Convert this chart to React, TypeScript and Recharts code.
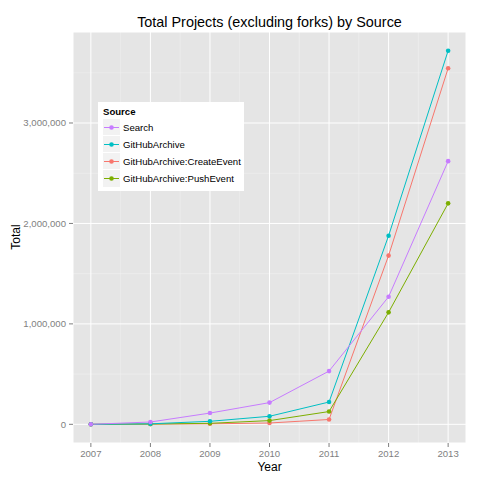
import React from 'react';
import { LineChart, Line, XAxis, YAxis, CartesianGrid, Legend } from 'recharts';

const years = [2007, 2008, 2009, 2010, 2011, 2012, 2013];
const search = [0, 23000, 112000, 216000, 530000, 1270000, 2620000];
const githubArchive = [0, 5000, 30000, 80000, 222000, 1877000, 3720000];
const createEvent = [0, 2000, 5000, 13000, 48000, 1680000, 3545000];
const pushEvent = [0, 3000, 10000, 37000, 127000, 1115000, 2200000];

const yTicks = [0, 1000000, 2000000, 3000000];
const yMinor = [500000, 1500000, 2500000, 3500000];
const xMinor = [2007.5, 2008.5, 2009.5, 2010.5, 2011.5, 2012.5];
const xDomain = [2006.7, 2013.3];
const yDomain = [-186000, 3906000];

// legend order vs drawing order differ, like the ggplot original
const series = [
  { key: 'search', name: 'Search', color: '#C77CFF' },
  { key: 'githubArchive', name: 'GitHubArchive', color: '#00BFC4' },
  { key: 'createEvent', name: 'GitHubArchive:CreateEvent', color: '#F8766D' },
  { key: 'pushEvent', name: 'GitHubArchive:PushEvent', color: '#7CAE00' },
];
const drawOrder = ['createEvent', 'pushEvent', 'githubArchive', 'search'];

const data = years.map((year, i) => ({
  year,
  search: search[i],
  githubArchive: githubArchive[i],
  createEvent: createEvent[i],
  pushEvent: pushEvent[i],
}));

const font = '"Liberation Sans", Arial, sans-serif';
const tickStyle = { fill: '#7F7F7F', fontSize: 9.6, fontFamily: font };

// minor grid positions from the axis domain and the plot offset
const minorY = ({ offset }: any) =>
  yMinor.map((v) => offset.top + (offset.height * (yDomain[1] - v)) / (yDomain[1] - yDomain[0]));
const minorX = ({ offset }: any) =>
  xMinor.map((v) => offset.left + (offset.width * (v - xDomain[0])) / (xDomain[1] - xDomain[0]));

function LegendBox() {
  return (
    <div
      style={{
        background: '#fff',
        width: 146,
        height: 89,
        boxSizing: 'border-box',
        padding: '3px 0 0 5px',
        fontFamily: font,
      }}
    >
      <div style={{ fontSize: 9.6, fontWeight: 'bold', height: 14, lineHeight: '14px' }}>Source</div>
      {series.map((s) => (
        <div key={s.key} style={{ display: 'flex', alignItems: 'center', height: 17 }}>
          <svg width={17} height={17} style={{ background: '#F2F2F2', outline: '1px solid #fff' }}>
            <line x1={1} x2={16} y1={8.5} y2={8.5} stroke={s.color} strokeWidth={1} />
            <circle cx={8.5} cy={8.5} r={2.3} fill={s.color} />
          </svg>
          <span style={{ fontSize: 9.6, marginLeft: 3, color: '#000' }}>{s.name}</span>
        </div>
      ))}
    </div>
  );
}

export default function App() {
  return (
    <div style={{ position: 'absolute', left: 0, top: 0, width: 480, height: 480, background: '#fff' }}>
      <div
        style={{
          position: 'absolute',
          left: 73,
          width: 393,
          top: 14,
          textAlign: 'center',
          fontFamily: font,
          fontSize: 14.4,
          lineHeight: '17px',
        }}
      >
        Total Projects (excluding forks) by Source
      </div>
      <div
        style={{
          position: 'absolute',
          left: 73,
          width: 393,
          top: 462,
          textAlign: 'center',
          fontFamily: font,
          fontSize: 12,
          lineHeight: '11px',
        }}
      >
        Year
      </div>
      <div
        style={{
          position: 'absolute',
          left: 15.5,
          top: 237,
          transform: 'translate(-50%, -50%) rotate(-90deg)',
          fontFamily: font,
          fontSize: 12,
          lineHeight: '14px',
        }}
      >
        Total
      </div>
      <LineChart width={480} height={480} data={data} margin={{ top: 32, right: 14, left: 0, bottom: 0 }}>
        <CartesianGrid
          fill="#E5E5E5"
          stroke="#F2F2F2"
          strokeWidth={0.5}
          horizontalCoordinatesGenerator={minorY}
          verticalCoordinatesGenerator={minorX}
        />
        <CartesianGrid stroke="#FFFFFF" strokeWidth={1} fill="none" />
        <XAxis
          dataKey="year"
          type="number"
          domain={xDomain}
          ticks={years}
          height={37}
          axisLine={false}
          tickLine={{ stroke: '#7F7F7F' }}
          tickSize={4}
          tickMargin={3}
          tick={tickStyle}
          allowDataOverflow
        />
        <YAxis
          type="number"
          domain={yDomain}
          ticks={yTicks}
          width={73}
          axisLine={false}
          tickLine={{ stroke: '#7F7F7F' }}
          tickSize={4}
          tickMargin={3}
          tick={tickStyle}
          tickFormatter={(v: number) => v.toLocaleString('en-US')}
          allowDataOverflow
        />
        {drawOrder.map((k) => {
          const s = series.find((x) => x.key === k)!;
          return (
            <Line
              key={k}
              type="linear"
              dataKey={k}
              name={s.name}
              stroke={s.color}
              strokeWidth={1}
              dot={{ r: 2.3, fill: s.color, stroke: 'none' }}
              isAnimationActive={false}
            />
          );
        })}
        <Legend
          layout="vertical"
          align="center"
          verticalAlign="middle"
          wrapperStyle={{ left: 98, top: 102, width: 146 }}
          content={() => <LegendBox />}
        />
      </LineChart>
    </div>
  );
}
